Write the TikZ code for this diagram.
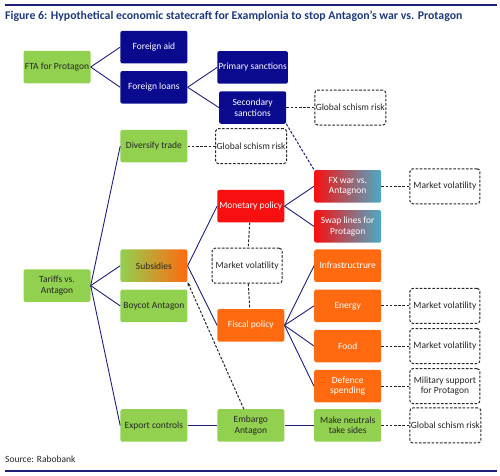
\documentclass[tikz,border=0pt]{standalone}
\usepackage{fontspec}
\setmainfont{Carlito}
\usetikzlibrary{positioning,arrows.meta}

\definecolor{leafgreen}{HTML}{92D050}
\definecolor{navybox}{HTML}{0A0A8F}
\definecolor{redbox}{HTML}{F80F0F}
\definecolor{orangebox}{HTML}{FF6A10}
\definecolor{skyblue}{HTML}{4BACC6}
\definecolor{linknavy}{HTML}{1F1F7A}
\definecolor{titleblue}{HTML}{1F3A7A}
\definecolor{inkgrey}{HTML}{262626}

\begin{document}
\begin{tikzpicture}[
  x=1pt,y=1pt,
  font=\fontsize{9.5}{10.5}\selectfont,
  node distance=7.24pt and 29.5pt,
  box/.style={rounded corners=2pt,align=center,inner sep=1pt,minimum width=67pt,minimum height=32.5pt},
  leaf/.style={box,fill=leafgreen,text=inkgrey},
  navy/.style={box,fill=navybox,text=white},
  money/.style={box,fill=redbox,text=white},
  fx/.style={box,left color=redbox,middle color=redbox!60!skyblue,right color=skyblue,text=white},
  fisc/.style={box,fill=orangebox,text=white},
  mixed/.style={box,left color=leafgreen,middle color=leafgreen!85!orangebox,right color=orangebox,text=inkgrey},
  risk/.style={draw=inkgrey,line width=1pt,dash pattern=on 2.6pt off 1.6pt,rounded corners=3pt,fill=white,
    align=center,inner sep=1pt,minimum width=70pt,minimum height=35pt,text=inkgrey},
  link/.style={draw=linknavy,line width=0.9pt},
  dlink/.style={draw=inkgrey,line width=1pt,dash pattern=on 2.6pt off 1.6pt}
]
\useasboundingbox (0,0) rectangle (500,-475);

% ---------- frame ----------
\coordinate (rtl) at (5,-5);   \coordinate (rtr) at (497,-5);
\coordinate (rbl) at (5,-471); \coordinate (rbr) at (497,-471);
\draw[linknavy,line width=1.2pt] (rtl) -- (rtr);
\draw[linknavy,line width=1.2pt] (rbl) -- (rbr);
\node[anchor=west,inner sep=0pt,text=titleblue,font=\fontsize{11.8}{13}\selectfont\bfseries] (title) at (5,-16)
  {Figure 6: Hypothetical economic statecraft for Examplonia to stop Antagon’s war vs. Protagon};
\node[anchor=west,inner sep=0pt,text=inkgrey] (src) at (5,-459) {Source: Rabobank};

% ---------- FTA branch ----------
\node[leaf] (fta) at (57,-67) {FTA for Protagon};
\node[navy,right=of fta,yshift=19.87pt] (aid) {Foreign aid};
\node[navy,below=of aid] (loans) {Foreign loans};
\node[navy,right=of loans,yshift=19.87pt] (prim) {Primary sanctions};
\node[navy,below=of prim] (sec) {Secondary\\ sanctions};
\node[risk,right=28pt of sec] (risk1) {Global schism risk};
\draw[link] (fta.east) -- (aid.west);
\draw[link] (fta.east) -- (loans.west);
\draw[link] (loans.east) -- (prim.west);
\draw[link] (loans.east) -- (sec.west);
\draw[dlink] (sec) -- (risk1);

% ---------- tariffs branch ----------
\node[leaf] (tariffs) at (57,-285.6) {Tariffs vs.\\ Antagon};
\node[mixed,right=of tariffs,yshift=19.87pt] (subs) {Subsidies};
\node[leaf,below=of subs] (boycott) {Boycot Antagon};
\node[leaf,above=86.7pt of subs] (divers) {Diversify trade};
\node[leaf,below=86.7pt of boycott] (export) {Export controls};
\node[risk,right=27.5pt of divers] (risk2) {Global schism risk};
\draw[link] (tariffs.east) -- (divers.west);
\draw[link] (tariffs.east) -- (subs.west);
\draw[link] (tariffs.east) -- (boycott.west);
\draw[link] (tariffs.east) -- (export.west);
\draw[dlink] (divers) -- (risk2);

% ---------- monetary / fiscal ----------
\node[money,right=of subs,yshift=59.6pt] (monet) {Monetary policy};
\node[fisc,right=of subs,yshift=-59.6pt] (fiscal) {Fiscal policy};
\node[risk,right=24pt of subs] (vol0) {Market volatility};
\draw[link] (subs.east) -- (monet.west);
\draw[link] (subs.east) -- (fiscal.west);
\draw[dlink] (monet) -- (vol0);
\draw[dlink] (vol0) -- (fiscal);

\node[fx,right=of monet,yshift=19.87pt] (fxwar) {FX war vs.\\ Antagnon};
\node[fx,below=of fxwar] (swap) {Swap lines for\\ Protagon};
\node[risk,right=28pt of fxwar] (vol1) {Market volatility};
\draw[link] (monet.east) -- (fxwar.west);
\draw[link] (monet.east) -- (swap.west);
\draw[dlink] (fxwar) -- (vol1);
\draw[dlink,draw=linknavy] (sec.south east) -- (fxwar.north west);

\node[fisc,right=of fiscal,yshift=59.6pt] (infra) {Infrastructrure};
\node[fisc,below=of infra] (energy) {Energy};
\node[fisc,below=of energy] (food) {Food};
\node[fisc,below=of food] (defence) {Defence\\ spending};
\node[risk,right=28pt of energy] (vol2) {Market volatility};
\node[risk,right=28pt of food] (vol3) {Market volatility};
\node[risk,right=28pt of defence] (milit) {Military support\\ for Protagon};
\foreach \n in {infra,energy,food,defence}
  \draw[link] (fiscal.east) -- (\n.west);
\draw[dlink] (energy) -- (vol2);
\draw[dlink] (food) -- (vol3);
\draw[dlink] (defence) -- (milit);

% ---------- export controls row ----------
\node[leaf,right=of export] (embargo) {Embargo\\ Antagon};
\node[leaf,right=of embargo] (neutral) {Make neutrals\\ take sides};
\node[risk,right=28pt of neutral] (risk3) {Global schism risk};
\draw[link] (export) -- (embargo);
\draw[link] (embargo) -- (neutral);
\draw[dlink] (neutral) -- (risk3);
\draw[dlink,-{Stealth[length=4.5pt,width=3.5pt]}] ([xshift=-7pt]embargo.north) -- (subs.south east);

\end{tikzpicture}
\end{document}
